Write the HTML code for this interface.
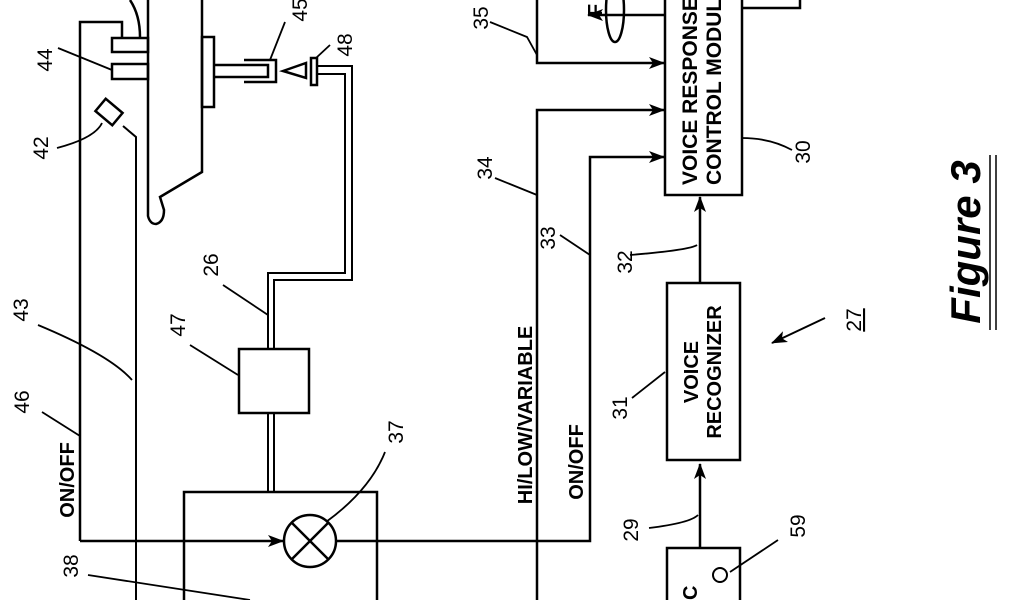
<!DOCTYPE html>
<html><head><style>html,body{margin:0;padding:0;background:#fff;}svg{display:block}</style></head>
<body>
<svg width="1024" height="600" viewBox="0 0 1024 600" xmlns="http://www.w3.org/2000/svg">
<defs>
<marker id="ar" markerWidth="16" markerHeight="12" refX="15" refY="6" orient="auto" markerUnits="userSpaceOnUse">
<path d="M0,0 L16,6 L0,12 L4,6 Z" fill="#000"/>
</marker>
</defs>
<g fill="none" stroke="#000" stroke-width="2.5">
<path d="M80,541 L80,22 L122,22 L122,37"/>
<rect x="112" y="38" width="36" height="14"/>
<rect x="112" y="64" width="36" height="15"/>
<path d="M130,0 Q140,15 140,37"/>
<path d="M148,0 L148,216 Q150,224 156,224 Q164,222 164,210 L160,197 L202,172 L202,0"/>
<rect x="202" y="37" width="12" height="70"/>
<path d="M214,65 L268,65 L268,77 L214,77"/>
<path d="M244,60 L276,60 L276,82 L244,82"/>
<path d="M283,71 L306,63 L306,78 Z"/>
<rect x="311" y="58" width="6" height="27"/>
<path d="M317,66 L352,66 L352,280 L274,280 L274,348" stroke-width="2"/>
<path d="M317,74 L345,74 L345,273 L268,273 L268,348" stroke-width="2"/>
<rect x="239" y="349" width="70" height="64"/>
<path d="M268,413 L268,492 M274,413 L274,492" stroke-width="2"/>
<rect x="98" y="104" width="22" height="16" transform="rotate(40 109 112)"/>
<path d="M123,126 L136,137 L136,600" stroke-width="2"/>
<rect x="184" y="492" width="193" height="120"/>
<path d="M80,541 L283,541" marker-end="url(#ar)"/>
<circle cx="310" cy="541" r="26"/>
<path d="M292,523 L328,559 M328,523 L292,559"/>
<path d="M336,541 L590,541 L590,157 L664,157" marker-end="url(#ar)"/>
<path d="M537,600 L537,110 L664,110" marker-end="url(#ar)"/>
<path d="M537,0 L537,63 L664,63" marker-end="url(#ar)"/>
<path d="M665,15 L588,15" marker-end="url(#ar)"/>
<ellipse cx="615" cy="10" rx="9" ry="32"/>
<path d="M742,8 L800,8 L800,0"/>
<rect x="665" y="-5" width="77" height="200"/>
<rect x="667" y="283" width="73" height="177"/>
<rect x="667" y="548" width="73" height="60"/>
<circle cx="720" cy="575" r="7" stroke-width="2"/>
<path d="M700,283 L700,197" marker-end="url(#ar)"/>
<path d="M700,548 L700,464" marker-end="url(#ar)"/>
<path d="M825,318 L772,343" marker-end="url(#ar)" stroke-width="2"/>
<g stroke-width="1.8">
<path d="M58,48 L112,70"/>
<path d="M57,148 Q95,138 102,123"/>
<path d="M38,325 Q110,355 132,380"/>
<path d="M42,412 L80,436"/>
<path d="M88,575 L250,600"/>
<path d="M190,345 L238,375"/>
<path d="M223,285 L268,315"/>
<path d="M385,452 Q370,490 326,522"/>
<path d="M330,45 L316,58"/>
<path d="M285,22 L270,60"/>
<path d="M490,22 L527,37 L537,55"/>
<path d="M495,178 L537,195"/>
<path d="M560,235 L590,255"/>
<path d="M630,255 Q690,250 697,245"/>
<path d="M632,398 L665,372"/>
<path d="M649,528 Q690,523 698,515"/>
<path d="M778,540 L730,572"/>
<path d="M742,138 Q770,138 792,150"/>
</g>
<path d="M990,155 L990,330 M996,155 L996,330" stroke-width="1.5"/>
</g>
<g font-family="Liberation Sans, sans-serif" font-size="21" fill="#000">
<text transform="translate(52,60) rotate(-90)" text-anchor="middle">44</text>
<text transform="translate(48,148) rotate(-90)" text-anchor="middle">42</text>
<text transform="translate(28,310) rotate(-90)" text-anchor="middle">43</text>
<text transform="translate(29,402) rotate(-90)" text-anchor="middle">46</text>
<text transform="translate(78,566) rotate(-90)" text-anchor="middle">38</text>
<text transform="translate(185,325) rotate(-90)" text-anchor="middle">47</text>
<text transform="translate(218,265) rotate(-90)" text-anchor="middle">26</text>
<text transform="translate(403,432) rotate(-90)" text-anchor="middle">37</text>
<text transform="translate(352,45) rotate(-90)" text-anchor="middle">48</text>
<text transform="translate(307,10) rotate(-90)" text-anchor="middle">45</text>
<text transform="translate(488,18) rotate(-90)" text-anchor="middle">35</text>
<text transform="translate(492,168) rotate(-90)" text-anchor="middle">34</text>
<text transform="translate(555,238) rotate(-90)" text-anchor="middle">33</text>
<text transform="translate(632,262) rotate(-90)" text-anchor="middle">32</text>
<text transform="translate(627,408) rotate(-90)" text-anchor="middle">31</text>
<text transform="translate(638,530) rotate(-90)" text-anchor="middle">29</text>
<text transform="translate(805,526) rotate(-90)" text-anchor="middle">59</text>
<text transform="translate(810,152) rotate(-90)" text-anchor="middle">30</text>
<text transform="translate(861,320) rotate(-90)" text-anchor="middle" text-decoration="underline">27</text>
</g>
<g font-family="Liberation Sans, sans-serif" font-weight="bold" font-size="20" fill="#000">
<text transform="translate(74,480) rotate(-90)" text-anchor="middle">ON/OFF</text>
<text transform="translate(532,415) rotate(-90)" text-anchor="middle">HI/LOW/VARIABLE</text>
<text transform="translate(583,462) rotate(-90)" text-anchor="middle">ON/OFF</text>
<text transform="translate(698,372) rotate(-90)" text-anchor="middle">VOICE</text>
<text transform="translate(721,372) rotate(-90)" text-anchor="middle">RECOGNIZER</text>
<text transform="translate(697,185) rotate(-90)" text-anchor="start" font-size="21">VOICE RESPONSE</text>
<text transform="translate(721,185) rotate(-90)" text-anchor="start" font-size="21">CONTROL MODULE</text>
<text transform="translate(697,600) rotate(-90)" text-anchor="start">C</text>
<text transform="translate(602,10) rotate(-90)" text-anchor="middle">F</text>
<text transform="translate(980,242) rotate(-90)" text-anchor="middle" font-size="42" font-style="italic">Figure 3</text>
</g>
</svg>
</body></html>
